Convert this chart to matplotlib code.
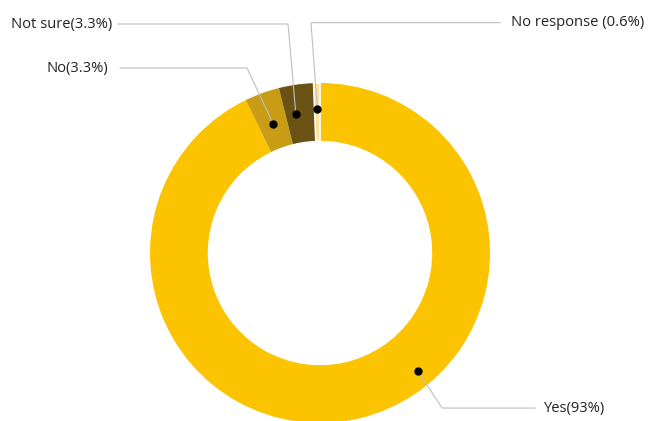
import numpy as np
import matplotlib
matplotlib.use('Agg')
import matplotlib.pyplot as plt

plt.rcParams['font.family'] = ['Open Sans', 'DejaVu Sans']

# survey answers
labels = ['Yes(93%)', 'No(3.3%)', 'Not sure(3.3%)', 'No response (0.6%)']
shares = [93, 3.3, 3.3, 0.6]
colors = ['#FCC400', '#C99C16', '#6A5215', '#FAE29A']

# where each leader line sits inside its wedge (fraction of the sweep, radius)
anchor_frac = [0.42, 0.5, 0.35, 0.5]
anchor_rad = [0.90, 0.81, 0.83, 0.85]
# elbow of the leader line, end of horizontal run, text x, alignment
elbows = [(0.718, -0.912), (-0.429, 1.088), (-0.188, 1.347), (-0.053, 1.355)]
run_end = [1.265, -1.176, -1.188, 1.059]
text_x = [1.312, -1.247, -1.224, 1.124]
align = ['left', 'right', 'right', 'left']

fig = plt.figure(figsize=(6.48, 4.21), dpi=100)
ax = fig.add_axes([0, 0, 1, 1])
ax.axis('off')

wedges, _ = ax.pie(shares, radius=1, startangle=90, counterclock=False, colors=colors,
                   wedgeprops=dict(width=0.34, linewidth=0))
# thin white gap only around the smallest slice
wedges[-1].set_edgecolor('white')
wedges[-1].set_linewidth(1.2)

ax.set_xlim(-320 / 170, (648 - 320) / 170)
ax.set_ylim(-(421 - 253) / 170, 253 / 170)
ax.set_aspect('auto')

for i, w in enumerate(wedges):
    ang = np.deg2rad(w.theta2 - anchor_frac[i] * (w.theta2 - w.theta1))
    px, py = anchor_rad[i] * np.cos(ang), anchor_rad[i] * np.sin(ang)
    ex, ey = elbows[i]
    ax.plot([px, ex, run_end[i]], [py, ey, ey], color='#BFBFBF', lw=0.8, zorder=3)
    ax.plot(px, py, 'o', color='black', ms=5, zorder=4)
    ax.text(text_x[i], ey, labels[i], ha=align[i], va='center', fontsize=10.6, color='#222222')

plt.savefig('out.png', dpi=100)
